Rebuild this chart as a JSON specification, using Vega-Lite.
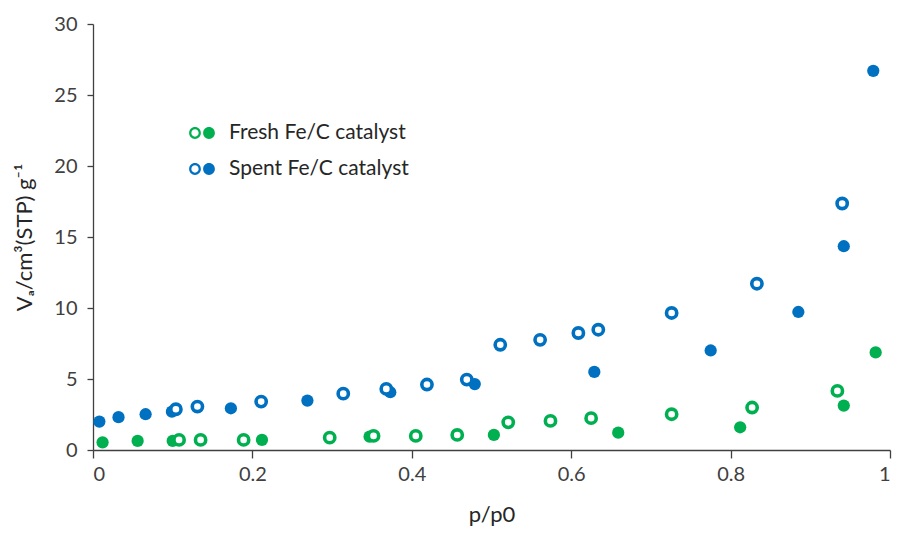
{
  "$schema": "https://vega.github.io/schema/vega-lite/v6.json",
  "autosize": "none",
  "width": 797,
  "height": 426,
  "padding": {"left": 93, "top": 24, "right": 8, "bottom": 85},
  "background": "white",
  "config": {
    "view": {"stroke": null},
    "font": "Lato",
    "axis": {
      "grid": false,
      "domainColor": "#404040",
      "domainWidth": 1.3,
      "tickColor": "#404040",
      "tickWidth": 1.3,
      "labelFont": "Lato",
      "labelFontSize": 20,
      "labelColor": "#404040",
      "titleFont": "Lato",
      "titleFontSize": 22,
      "titleFontWeight": "normal",
      "titleColor": "#262626"
    }
  },
  "data": {
    "values": [
      {"catalyst": "Fresh Fe/C catalyst", "branch": "Adsorption", "p": 0.012, "V": 0.54},
      {"catalyst": "Fresh Fe/C catalyst", "branch": "Adsorption", "p": 0.056, "V": 0.64},
      {"catalyst": "Fresh Fe/C catalyst", "branch": "Adsorption", "p": 0.100, "V": 0.64},
      {"catalyst": "Fresh Fe/C catalyst", "branch": "Adsorption", "p": 0.212, "V": 0.71},
      {"catalyst": "Fresh Fe/C catalyst", "branch": "Adsorption", "p": 0.347, "V": 0.94},
      {"catalyst": "Fresh Fe/C catalyst", "branch": "Adsorption", "p": 0.503, "V": 1.06},
      {"catalyst": "Fresh Fe/C catalyst", "branch": "Adsorption", "p": 0.659, "V": 1.22},
      {"catalyst": "Fresh Fe/C catalyst", "branch": "Adsorption", "p": 0.812, "V": 1.60},
      {"catalyst": "Fresh Fe/C catalyst", "branch": "Adsorption", "p": 0.942, "V": 3.13},
      {"catalyst": "Fresh Fe/C catalyst", "branch": "Adsorption", "p": 0.982, "V": 6.87},
      {"catalyst": "Spent Fe/C catalyst", "branch": "Adsorption", "p": 0.008, "V": 2.00},
      {"catalyst": "Spent Fe/C catalyst", "branch": "Adsorption", "p": 0.032, "V": 2.31},
      {"catalyst": "Spent Fe/C catalyst", "branch": "Adsorption", "p": 0.066, "V": 2.52},
      {"catalyst": "Spent Fe/C catalyst", "branch": "Adsorption", "p": 0.099, "V": 2.70},
      {"catalyst": "Spent Fe/C catalyst", "branch": "Adsorption", "p": 0.173, "V": 2.94},
      {"catalyst": "Spent Fe/C catalyst", "branch": "Adsorption", "p": 0.269, "V": 3.48},
      {"catalyst": "Spent Fe/C catalyst", "branch": "Adsorption", "p": 0.373, "V": 4.07},
      {"catalyst": "Spent Fe/C catalyst", "branch": "Adsorption", "p": 0.479, "V": 4.64},
      {"catalyst": "Spent Fe/C catalyst", "branch": "Adsorption", "p": 0.629, "V": 5.50},
      {"catalyst": "Spent Fe/C catalyst", "branch": "Adsorption", "p": 0.775, "V": 7.01},
      {"catalyst": "Spent Fe/C catalyst", "branch": "Adsorption", "p": 0.885, "V": 9.72},
      {"catalyst": "Spent Fe/C catalyst", "branch": "Adsorption", "p": 0.942, "V": 14.35},
      {"catalyst": "Spent Fe/C catalyst", "branch": "Adsorption", "p": 0.979, "V": 26.70},
      {"catalyst": "Fresh Fe/C catalyst", "branch": "Desorption", "p": 0.108, "V": 0.71},
      {"catalyst": "Fresh Fe/C catalyst", "branch": "Desorption", "p": 0.135, "V": 0.71},
      {"catalyst": "Fresh Fe/C catalyst", "branch": "Desorption", "p": 0.189, "V": 0.71},
      {"catalyst": "Fresh Fe/C catalyst", "branch": "Desorption", "p": 0.297, "V": 0.87},
      {"catalyst": "Fresh Fe/C catalyst", "branch": "Desorption", "p": 0.352, "V": 0.99},
      {"catalyst": "Fresh Fe/C catalyst", "branch": "Desorption", "p": 0.405, "V": 0.99},
      {"catalyst": "Fresh Fe/C catalyst", "branch": "Desorption", "p": 0.457, "V": 1.06},
      {"catalyst": "Fresh Fe/C catalyst", "branch": "Desorption", "p": 0.521, "V": 1.95},
      {"catalyst": "Fresh Fe/C catalyst", "branch": "Desorption", "p": 0.574, "V": 2.05},
      {"catalyst": "Fresh Fe/C catalyst", "branch": "Desorption", "p": 0.625, "V": 2.24},
      {"catalyst": "Fresh Fe/C catalyst", "branch": "Desorption", "p": 0.726, "V": 2.52},
      {"catalyst": "Fresh Fe/C catalyst", "branch": "Desorption", "p": 0.827, "V": 2.99},
      {"catalyst": "Fresh Fe/C catalyst", "branch": "Desorption", "p": 0.934, "V": 4.16},
      {"catalyst": "Spent Fe/C catalyst", "branch": "Desorption", "p": 0.104, "V": 2.87},
      {"catalyst": "Spent Fe/C catalyst", "branch": "Desorption", "p": 0.131, "V": 3.06},
      {"catalyst": "Spent Fe/C catalyst", "branch": "Desorption", "p": 0.211, "V": 3.41},
      {"catalyst": "Spent Fe/C catalyst", "branch": "Desorption", "p": 0.314, "V": 3.97},
      {"catalyst": "Spent Fe/C catalyst", "branch": "Desorption", "p": 0.368, "V": 4.30},
      {"catalyst": "Spent Fe/C catalyst", "branch": "Desorption", "p": 0.419, "V": 4.61},
      {"catalyst": "Spent Fe/C catalyst", "branch": "Desorption", "p": 0.469, "V": 4.96},
      {"catalyst": "Spent Fe/C catalyst", "branch": "Desorption", "p": 0.511, "V": 7.41},
      {"catalyst": "Spent Fe/C catalyst", "branch": "Desorption", "p": 0.561, "V": 7.76},
      {"catalyst": "Spent Fe/C catalyst", "branch": "Desorption", "p": 0.609, "V": 8.24},
      {"catalyst": "Spent Fe/C catalyst", "branch": "Desorption", "p": 0.634, "V": 8.47},
      {"catalyst": "Spent Fe/C catalyst", "branch": "Desorption", "p": 0.726, "V": 9.65},
      {"catalyst": "Spent Fe/C catalyst", "branch": "Desorption", "p": 0.833, "V": 11.71},
      {"catalyst": "Spent Fe/C catalyst", "branch": "Desorption", "p": 0.940, "V": 17.36}
    ]
  },
  "encoding": {
    "x": {
      "field": "p", "type": "quantitative",
      "scale": {"domain": [0, 1], "nice": false, "zero": false},
      "axis": {"title": "p/p0", "values": [0, 0.2, 0.4, 0.6, 0.8, 1], "format": "~g", "tickSize": 8, "labelPadding": 6, "titlePadding": 20}
    },
    "y": {
      "field": "V", "type": "quantitative",
      "scale": {"domain": [0, 30], "nice": false},
      "axis": {"title": "Vₐ/cm³(STP) g⁻¹", "values": [0, 5, 10, 15, 20, 25, 30], "tickSize": 6, "labelPadding": 10, "titlePadding": 17}
    },
    "color": {
      "field": "catalyst", "type": "nominal",
      "scale": {"domain": ["Fresh Fe/C catalyst", "Spent Fe/C catalyst"], "range": ["#00b050", "#0070c0"]},
      "legend": {
        "title": null,
        "orient": "none",
        "legendX": 95,
        "legendY": 95,
        "symbolType": "M -0.92 0 A 0.42 0.42 0 1 0 -0.08 0 A 0.42 0.42 0 1 0 -0.92 0 Z M -0.76 0 A 0.26 0.26 0 1 1 -0.24 0 A 0.26 0.26 0 1 1 -0.76 0 Z M 0.08 0 A 0.42 0.42 0 1 0 0.92 0 A 0.42 0.42 0 1 0 0.08 0 Z",
        "symbolSize": 784,
        "symbolStrokeWidth": 0,
        "symbolOpacity": 1,
        "labelFont": "Lato",
        "labelFontSize": 21,
        "labelColor": "#262626",
        "labelLimit": 400,
        "labelOffset": 13,
        "rowPadding": 12,
        "padding": 0
      }
    }
  },
  "layer": [
    {
      "transform": [{"filter": "datum.branch === 'Adsorption'"}],
      "mark": {"type": "point", "shape": "circle", "filled": true, "opacity": 1, "size": 150, "strokeWidth": 0}
    },
    {
      "transform": [{"filter": "datum.branch === 'Desorption'"}],
      "mark": {"type": "point", "shape": "circle", "filled": false, "fill": "white", "fillOpacity": 1, "opacity": 1, "size": 105, "strokeWidth": 3.6}
    }
  ]
}
